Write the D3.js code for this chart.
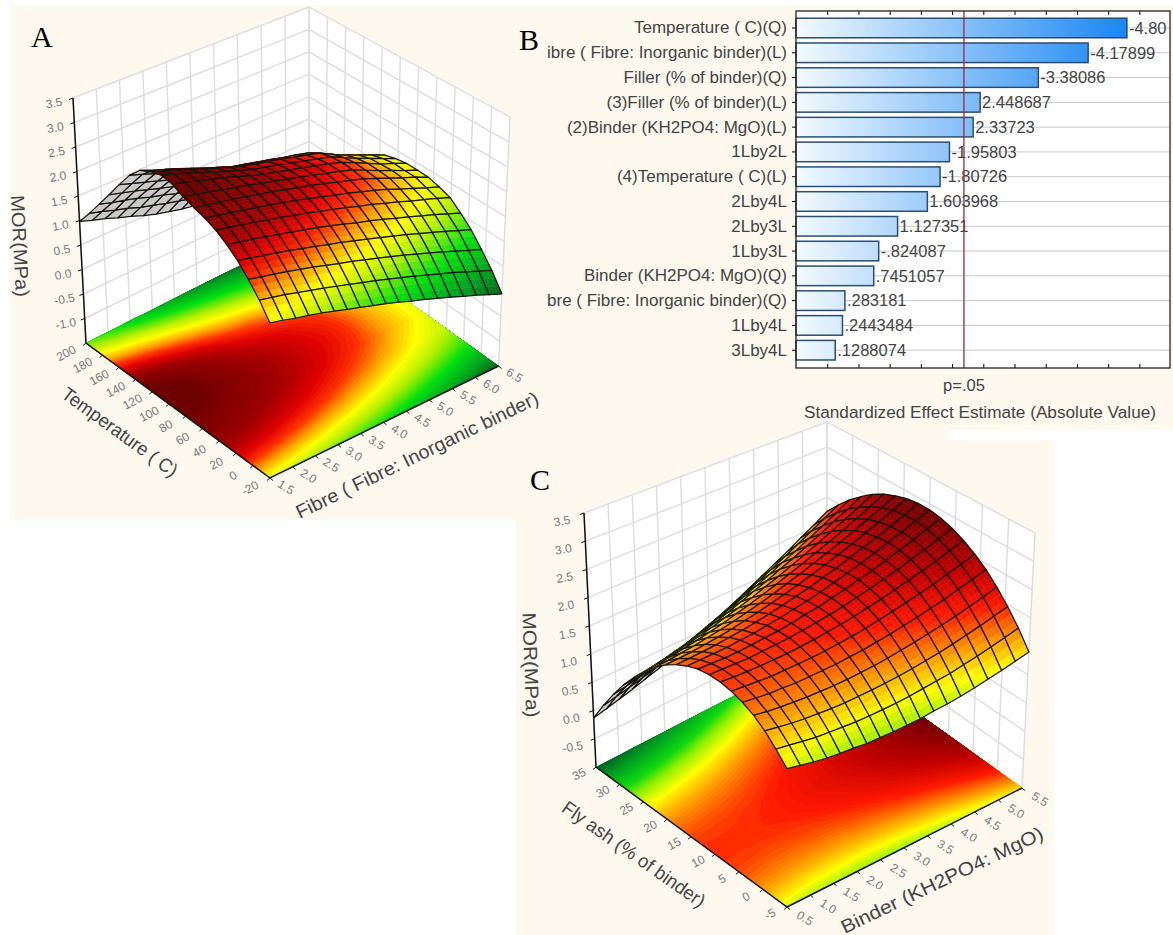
<!DOCTYPE html>
<html>
<head>
<meta charset="utf-8">
<script src="https://cdn.jsdelivr.net/npm/d3@7/dist/d3.min.js"></script>
<style>
  html, body { margin: 0; padding: 0; background: #fff; }
  svg { display: block; }
  text { font-family: "Liberation Sans", Arial, sans-serif; }
</style>
</head>
<body>
<svg id="chart" width="1173" height="935"></svg>
<script>
// Panel B: pareto of effects
var effectNames = ["Temperature ( C)(Q)", "ibre ( Fibre: Inorganic binder)(L)", "Filler (% of binder)(Q)", "(3)Filler (% of binder)(L)", "(2)Binder (KH2PO4: MgO)(L)", "1Lby2L", "(4)Temperature ( C)(L)", "2Lby4L", "2Lby3L", "1Lby3L", "Binder (KH2PO4: MgO)(Q)", "bre ( Fibre: Inorganic binder)(Q)", "1Lby4L", "3Lby4L"];
var effectSizes = [4.80, 4.17899, 3.38086, 2.448687, 2.33723, 1.95803, 1.80726, 1.603968, 1.127351, 0.824087, 0.7451057, 0.283181, 0.2443484, 0.1288074];
var effectLabels = ["-4.80", "-4.17899", "-3.38086", "2.448687", "2.33723", "-1.95803", "-1.80726", "1.603968", "1.127351", "-.824087", ".7451057", ".283181", ".2443484", ".1288074"];
var pLimit = 2.19;

// Panel A: MOR over fibre (rows) and temperature (columns)
var fibreTicks = [1.5, 2.0, 2.5, 3.0, 3.5, 4.0, 4.5, 5.0, 5.5, 6.0, 6.5];
var tempTicks = [-20, 0, 20, 40, 60, 80, 100, 120, 140, 160, 180, 200];
var morTicksA = [-1.0, -0.5, 0.0, 0.5, 1.0, 1.5, 2.0, 2.5, 3.0, 3.5];
var morA = [
  [1.35,1.65,1.91,2.14,2.32,2.47,2.58,2.66,2.75,2.88,2.93,2.88,2.78,2.56,2.25,1.92,1.60,1.28,.98],
  [1.30,1.60,1.86,2.09,2.27,2.43,2.54,2.62,2.70,2.81,2.85,2.79,2.68,2.48,2.17,1.85,1.52,1.21,.89],
  [1.24,1.55,1.81,2.04,2.23,2.38,2.49,2.57,2.65,2.74,2.77,2.72,2.60,2.39,2.09,1.78,1.46,1.12,.81],
  [1.19,1.49,1.76,1.99,2.17,2.33,2.44,2.53,2.59,2.67,2.68,2.62,2.51,2.30,2.01,1.70,1.39,1.05,.71],
  [1.13,1.43,1.70,1.93,2.12,2.27,2.39,2.48,2.53,2.60,2.59,2.53,2.41,2.20,1.92,1.62,1.30,.95,.62],
  [1.06,1.37,1.64,1.87,2.06,2.22,2.34,2.42,2.48,2.52,2.50,2.44,2.31,2.11,1.83,1.54,1.23,.88,.52],
  [.99,1.30,1.57,1.81,2.00,2.16,2.28,2.37,2.41,2.43,2.41,2.35,2.22,2.01,1.75,1.46,1.14,.80,.43],
  [.92,1.23,1.50,1.74,1.94,2.10,2.22,2.31,2.35,2.36,2.33,2.26,2.12,1.93,1.67,1.39,1.08,.73,.36],
  [.85,1.16,1.44,1.68,1.87,2.03,2.15,2.24,2.28,2.30,2.27,2.20,2.06,1.86,1.60,1.33,1.01,.66,.29],
  [.78,1.09,1.36,1.60,1.80,1.96,2.08,2.18,2.22,2.23,2.21,2.14,2.00,1.81,1.55,1.27,.95,.61,.24],
  [.70,1.01,1.29,1.53,1.72,1.89,2.01,2.11,2.15,2.17,2.14,2.08,1.94,1.75,1.49,1.21,.90,.55,.19],
  [.61,.93,1.21,1.45,1.65,1.81,1.94,2.03,2.08,2.10,2.07,2.01,1.87,1.68,1.43,1.15,.84,.49,.13],
  [.53,.85,1.13,1.37,1.57,1.74,1.86,1.96,2.01,2.03,2.00,1.94,1.81,1.61,1.36,1.09,.78,.43,.07],
  [.44,.76,1.04,1.29,1.48,1.65,1.78,1.88,1.93,1.95,1.93,1.87,1.74,1.54,1.29,1.02,.71,.37,.01],
  [.35,.67,.95,1.20,1.40,1.57,1.69,1.78,1.81,1.83,1.80,1.73,1.61,1.42,1.18,.91,.62,.29,-.06],
  [.25,.58,.86,1.11,1.31,1.47,1.58,1.67,1.69,1.70,1.67,1.60,1.47,1.30,1.06,.80,.52,.20,-.12],
  [.16,.48,.76,1.02,1.22,1.39,1.48,1.56,1.58,1.57,1.55,1.48,1.35,1.18,.94,.70,.43,.12,-.20],
  [.05,.38,.66,.92,1.12,1.30,1.38,1.46,1.46,1.47,1.43,1.36,1.23,1.06,.84,.59,.34,.03,-.27],
  [-.05,.28,.56,.82,1.02,1.20,1.28,1.34,1.35,1.35,1.31,1.24,1.11,.95,.73,.49,.24,-.06,-.35]
];
var levelsA = [-0.1, 0.3, 0.75, 1.15, 1.42, 1.68, 1.9, 2.1, 2.35, 2.75];
var coloursA = ["#075a1c", "#00a020", "#00e010", "#b4f000", "#ffff00", "#ffa000", "#ff3000", "#e00000", "#a00000", "#6e0000"];

// Panel C: MOR over binder (rows) and fly ash (columns)
var binderTicks = [0.5, 1.0, 1.5, 2.0, 2.5, 3.0, 3.5, 4.0, 4.5, 5.0, 5.5];
var flyAshTicks = [-5, 0, 5, 10, 15, 20, 25, 30, 35];
var morTicksC = [-0.5, 0.0, 0.5, 1.0, 1.5, 2.0, 2.5, 3.0, 3.5];
var morC = [
  [1.20,1.40,1.58,1.72,1.82,1.89,1.93,1.94,1.92,1.86,1.77,1.65,1.49,1.30,1.08,.83,.54,.22,-.13],
  [1.16,1.37,1.55,1.69,1.80,1.88,1.92,1.94,1.92,1.87,1.78,1.66,1.51,1.33,1.11,.86,.58,.27,-.08],
  [1.12,1.34,1.52,1.67,1.78,1.87,1.92,1.94,1.92,1.88,1.80,1.68,1.54,1.36,1.15,.90,.63,.32,-.02],
  [1.09,1.31,1.50,1.66,1.78,1.86,1.92,1.94,1.93,1.89,1.82,1.71,1.57,1.40,1.19,.95,.68,.38,.04],
  [1.07,1.30,1.49,1.65,1.77,1.87,1.93,1.96,1.95,1.92,1.85,1.74,1.61,1.44,1.24,1.01,.74,.44,.11],
  [1.06,1.29,1.48,1.65,1.78,1.88,1.94,1.98,1.98,1.94,1.88,1.78,1.65,1.49,1.29,1.06,.80,.51,.18],
  [1.04,1.28,1.48,1.65,1.79,1.89,1.96,2.00,2.00,1.98,1.92,1.83,1.70,1.54,1.35,1.13,.87,.59,.26],
  [1.04,1.28,1.49,1.66,1.80,1.91,1.99,2.03,2.04,2.02,1.97,1.88,1.76,1.61,1.42,1.20,.95,.67,.35],
  [1.04,1.29,1.50,1.68,1.83,1.94,2.02,2.07,2.09,2.07,2.02,1.94,1.82,1.67,1.49,1.28,1.04,.76,.45],
  [1.05,1.30,1.52,1.70,1.85,1.97,2.06,2.11,2.13,2.12,2.08,2.00,1.89,1.75,1.57,1.37,1.12,.85,.55],
  [1.06,1.32,1.54,1.73,1.89,2.01,2.10,2.16,2.19,2.18,2.14,2.07,1.97,1.83,1.66,1.46,1.22,.95,.65],
  [1.09,1.35,1.57,1.77,1.93,2.06,2.16,2.22,2.25,2.25,2.22,2.15,2.05,1.92,1.75,1.55,1.32,1.06,.76],
  [1.11,1.38,1.61,1.81,1.98,2.11,2.21,2.28,2.32,2.32,2.29,2.23,2.14,2.01,1.85,1.66,1.43,1.17,.88],
  [1.14,1.41,1.65,1.86,2.03,2.17,2.28,2.35,2.39,2.40,2.38,2.32,2.23,2.11,1.95,1.76,1.55,1.29,1.01],
  [1.18,1.46,1.70,1.91,2.09,2.23,2.35,2.42,2.47,2.49,2.47,2.41,2.33,2.21,2.06,1.88,1.66,1.42,1.14],
  [1.23,1.51,1.76,1.97,2.15,2.30,2.42,2.51,2.56,2.58,2.56,2.52,2.44,2.32,2.18,2.00,1.79,1.55,1.27],
  [1.28,1.57,1.82,2.04,2.23,2.38,2.50,2.59,2.65,2.67,2.66,2.62,2.55,2.44,2.30,2.13,1.92,1.69,1.42],
  [1.34,1.63,1.89,2.11,2.30,2.46,2.59,2.68,2.75,2.78,2.77,2.74,2.67,2.56,2.43,2.26,2.06,1.83,1.56],
  [1.40,1.70,1.96,2.19,2.39,2.55,2.68,2.78,2.85,2.89,2.89,2.86,2.79,2.70,2.57,2.40,2.21,1.98,1.72]
];
var levelsC = [-0.15, 0.3, 0.75, 1.0, 1.3, 1.5, 1.75, 2.0, 2.4, 2.85];
var coloursC = ["#055a24", "#00a020", "#10d810", "#90f000", "#ffff00", "#ffc000", "#ff7000", "#ff1800", "#c00000", "#780000"];

var svg = d3.select("#chart");
var defs = svg.append("defs");

// cream photo backgrounds
svg.append("path").attr("fill", "#fdf9ef")
  .attr("d", "M10,5H1173V430H948V440H1054V935H516V520H10Z");

// corners: F front, R right, B back, L left, on the floor and at the top of the box
var boxA = {
  floor: [[270, 478], [498.5, 366], [309, 231], [86, 343]],
  top: [[270, 206], [510, 117], [309, 7], [73, 98]]
};
var boxC = {
  floor: [[787, 907], [1022, 788], [827, 648], [596, 767]],
  top: [[787, 624], [1035, 533], [827, 422], [584, 513]]
};

function squareToQuad(q) {
  var dx1 = q[1][0] - q[2][0], dx2 = q[3][0] - q[2][0], sx = q[0][0] - q[1][0] + q[2][0] - q[3][0];
  var dy1 = q[1][1] - q[2][1], dy2 = q[3][1] - q[2][1], sy = q[0][1] - q[1][1] + q[2][1] - q[3][1];
  var den = dx1 * dy2 - dx2 * dy1;
  var g = (sx * dy2 - dx2 * sy) / den, h = (dx1 * sy - sx * dy1) / den;
  var a = q[1][0] - q[0][0] + g * q[1][0], b = q[3][0] - q[0][0] + h * q[3][0];
  var d = q[1][1] - q[0][1] + g * q[1][1], e = q[3][1] - q[0][1] + h * q[3][1];
  return function(u, v) {
    var w = g * u + h * v + 1;
    return [(a * u + b * v + q[0][0]) / w, (d * u + e * v + q[0][1]) / w];
  };
}

function drawSurfacePanel(cfg) {
  var g = svg.append("g");
  var floorH = squareToQuad(cfg.box.floor), topH = squareToQuad(cfg.box.top);
  var uScale = d3.scaleLinear().domain(d3.extent(cfg.uTicks)).range([0, 1]);
  var vScale = d3.scaleLinear().domain(d3.extent(cfg.vTicks)).range([0, 1]);
  var wScale = d3.scaleLinear().domain(cfg.zRange).range([0, 1]);
  var colour = d3.scaleLinear().domain(cfg.levels).range(cfg.colours).clamp(true);

  function project(u, v, z) {
    var f = floorH(u, v), t = topH(u, v), w = wScale(z);
    return [f[0] + (t[0] - f[0]) * w, f[1] + (t[1] - f[1]) * w];
  }
  var line = d3.line();
  var zLow = cfg.zRange[0], zHigh = cfg.zRange[1];

  // back walls
  var walls = g.append("g");
  walls.append("path").attr("fill", "#fff")
    .attr("d", line([project(0, 1, zLow), project(0, 1, zHigh), project(1, 1, zHigh), project(1, 1, zLow)]) + "Z");
  walls.append("path").attr("fill", "#fff")
    .attr("d", line([project(1, 1, zLow), project(1, 1, zHigh), project(1, 0, zHigh), project(1, 0, zLow)]) + "Z");
  function wallLine(a, b) {
    walls.append("path").attr("fill", "none").attr("stroke", "#dcdce2").attr("stroke-width", 1.4)
      .attr("d", line([a, b]));
  }
  cfg.uTicks.forEach(function(t) { wallLine(project(uScale(t), 1, zLow), project(uScale(t), 1, zHigh)); });
  cfg.vTicks.forEach(function(t) { wallLine(project(1, vScale(t), zLow), project(1, vScale(t), zHigh)); });
  cfg.zTicks.concat([zLow]).forEach(function(t) {
    wallLine(project(0, 1, t), project(1, 1, t));
    wallLine(project(1, 1, t), project(1, 0, t));
  });

  // floor contours from the same table
  var nu = cfg.values.length, nv = cfg.values[0].length;
  var flat = [];
  for (var j = 0; j < nv; j++) for (var i = 0; i < nu; i++) flat.push(cfg.values[i][j]);
  var minZ = d3.min(flat), maxZ = d3.max(flat);
  var thresholds = d3.range(Math.floor(minZ * 25) / 25, maxZ, 0.04);
  var contours = d3.contours().size([nu, nv]).smooth(true).thresholds(thresholds)(flat);
  var clamp01 = function(x) { return Math.max(0, Math.min(1, x)); };
  var ringPath = function(ring) {
    return line(ring.map(function(p) {
      return floorH(clamp01((p[0] - 0.5) / (nu - 1)), clamp01((p[1] - 0.5) / (nv - 1)));
    })) + "Z";
  };
  var floor = g.append("g");
  floor.selectAll("path").data(contours).enter().append("path")
    .attr("fill", function(d) { return colour(d.value + 0.02); })
    .attr("fill-rule", "evenodd")
    .attr("d", function(d) {
      return d.coordinates.map(function(poly) { return poly.map(ringPath).join(""); }).join("");
    });

  // axis lines on the box
  var axis = g.append("g").attr("stroke", "#111").attr("fill", "none");
  axis.append("path").attr("stroke-width", 1.5)
    .attr("d", line([project(0, 1, zHigh), project(0, 1, zLow), project(0, 0, zLow), project(1, 0, zLow)]));
  cfg.zTicks.forEach(function(t) {
    var p = project(0, 1, t);
    axis.append("path").attr("d", line([p, [p[0] - 4, p[1] + 1.5]]));
    g.append("text").text(t.toFixed(1))
      .attr("transform", "translate(" + (p[0] + cfg.zOffset[0]) + "," + (p[1] + cfg.zOffset[1]) + ") rotate(-10)")
      .attr("text-anchor", "middle").attr("dy", "0.35em")
      .attr("font-size", 12).attr("fill", "#777");
  });
  cfg.uTicks.forEach(function(t) {
    var p = project(uScale(t), 0, zLow);
    axis.append("path").attr("d", line([p, [p[0] + 3, p[1] + 2.5]]));
    g.append("text").text(d3.format(".1f")(t))
      .attr("transform", "translate(" + (p[0] + cfg.uOffset[0]) + "," + (p[1] + cfg.uOffset[1]) + ") rotate(32)")
      .attr("text-anchor", "middle").attr("dy", "0.35em")
      .attr("font-size", 12).attr("fill", "#777");
  });
  cfg.vTicks.forEach(function(t) {
    var p = project(0, vScale(t), zLow);
    axis.append("path").attr("d", line([p, [p[0] - 3, p[1] + 2.5]]));
    g.append("text").text(t)
      .attr("transform", "translate(" + (p[0] + cfg.vOffset[0]) + "," + (p[1] + cfg.vOffset[1]) + ") rotate(-28)")
      .attr("text-anchor", "middle").attr("dy", "0.35em")
      .attr("font-size", 12).attr("fill", "#777");
  });

  // mesh, far cells first; each cell is shaded in a few strips so the colour runs across it
  var floorSign = d3.polygonArea(cfg.box.floor) > 0 ? 1 : -1;
  var mesh = g.append("g").attr("stroke-linejoin", "round");
  var shadeSteps = 3;
  for (var jj = nv - 2; jj >= 0; jj--) {
    for (var ii = nu - 2; ii >= 0; ii--) {
      var z00 = cfg.values[ii][jj], z10 = cfg.values[ii + 1][jj], z11 = cfg.values[ii + 1][jj + 1], z01 = cfg.values[ii][jj + 1];
      var quad = [
        project(ii / (nu - 1), jj / (nv - 1), z00),
        project((ii + 1) / (nu - 1), jj / (nv - 1), z10),
        project((ii + 1) / (nu - 1), (jj + 1) / (nv - 1), z11),
        project(ii / (nu - 1), (jj + 1) / (nv - 1), z01)
      ];
      var underside = d3.polygonArea(quad) * floorSign < 0;
      if (underside) {
        mesh.append("path").attr("d", line(quad) + "Z").attr("fill", "#c9c9c9");
      } else {
        for (var a = 0; a < shadeSteps; a++) {
          for (var b = 0; b < shadeSteps; b++) {
            var s0 = a / shadeSteps, s1 = (a + 1) / shadeSteps, t0 = b / shadeSteps, t1 = (b + 1) / shadeSteps;
            var at = function(s, t) {
              var ax = quad[0][0] + (quad[1][0] - quad[0][0]) * s, ay = quad[0][1] + (quad[1][1] - quad[0][1]) * s;
              var bx = quad[3][0] + (quad[2][0] - quad[3][0]) * s, by = quad[3][1] + (quad[2][1] - quad[3][1]) * s;
              return [ax + (bx - ax) * t, ay + (by - ay) * t];
            };
            var sm = (s0 + s1) / 2, tm = (t0 + t1) / 2;
            var zm = (z00 * (1 - sm) + z10 * sm) * (1 - tm) + (z01 * (1 - sm) + z11 * sm) * tm;
            var c = colour(zm);
            mesh.append("path").attr("d", line([at(s0, t0), at(s1, t0), at(s1, t1), at(s0, t1)]) + "Z")
              .attr("fill", c).attr("stroke", c).attr("stroke-width", 0.5);
          }
        }
      }
      mesh.append("path").attr("d", line(quad) + "Z").attr("fill", "none")
        .attr("stroke", "#16140c").attr("stroke-width", 1.25);
    }
  }

  // axis titles
  cfg.titles.forEach(function(t) {
    g.append("text").text(t.text)
      .attr("transform", "translate(" + t.at[0] + "," + t.at[1] + ") rotate(" + t.angle + ")")
      .attr("text-anchor", "middle").attr("dy", "0.35em")
      .attr("font-size", 19).attr("fill", "#444")
      .attr("textLength", t.length).attr("lengthAdjust", "spacingAndGlyphs");
  });
}

drawSurfacePanel({
  box: boxA, values: morA, levels: levelsA, colours: coloursA,
  uTicks: fibreTicks, vTicks: tempTicks, zTicks: morTicksA, zRange: [-1.5, 3.5],
  zOffset: [-19, 5], uOffset: [16, 9], vOffset: [-20, 10],
  titles: [
    { text: "MOR(MPa)", at: [20, 246], angle: 87, length: 102 },
    { text: "Temperature ( C)", at: [120, 432], angle: 36, length: 138 },
    { text: "Fibre ( Fibre: Inorganic binder)", at: [417, 455], angle: -25.8, length: 267 }
  ]
});

drawSurfacePanel({
  box: boxC, values: morC, levels: levelsC, colours: coloursC,
  uTicks: binderTicks, vTicks: flyAshTicks, zTicks: morTicksC, zRange: [-1.0, 3.5],
  zOffset: [-22, 8], uOffset: [18, 11], vOffset: [-17, 7],
  titles: [
    { text: "MOR(MPa)", at: [531, 665], angle: 88, length: 105 },
    { text: "Fly ash (% of binder)", at: [634, 854], angle: 35, length: 170 },
    { text: "Binder (KH2PO4: MgO)", at: [942, 880], angle: -25.6, length: 222 }
  ]
});

// Panel B
var plotLeft = 796, plotRight = 1170, plotTop = 11, plotBottom = 368;
var x = d3.scaleLinear().domain([-0.5, 5.49]).range([plotLeft, plotRight]);
var y = d3.scaleBand().domain(effectNames).range([15.6, 362.6]).paddingInner(0.21).paddingOuter(0.105);

var grad = defs.append("linearGradient").attr("id", "barFill")
  .attr("gradientUnits", "userSpaceOnUse")
  .attr("x1", x(-0.5)).attr("x2", x(effectSizes[0])).attr("y1", 0).attr("y2", 0);
grad.append("stop").attr("offset", 0).attr("stop-color", "#f4faff");
grad.append("stop").attr("offset", 1).attr("stop-color", "#1a86f2");

svg.append("rect").attr("x", plotLeft).attr("y", plotTop).attr("width", plotRight - plotLeft).attr("height", plotBottom - plotTop).attr("fill", "#fff");

svg.selectAll(".grid").data(effectNames).enter().append("line")
  .attr("class", "grid")
  .attr("x1", plotLeft).attr("x2", plotRight)
  .attr("y1", function(d) { return y(d) + y.bandwidth() / 2; })
  .attr("y2", function(d) { return y(d) + y.bandwidth() / 2; })
  .attr("stroke", "#c9c9c9");

svg.selectAll(".bar").data(effectSizes).enter().append("rect")
  .attr("class", "bar")
  .attr("x", plotLeft)
  .attr("y", function(d, i) { return y(effectNames[i]); })
  .attr("width", function(d) { return x(d) - plotLeft; })
  .attr("height", y.bandwidth())
  .attr("fill", "url(#barFill)")
  .attr("stroke", "#2a4d73").attr("stroke-width", 1.5);

svg.selectAll(".value").data(effectLabels).enter().append("text")
  .attr("class", "value")
  .attr("x", function(d, i) { return x(effectSizes[i]) + 2; })
  .attr("y", function(d, i) { return y(effectNames[i]) + y.bandwidth() / 2; })
  .attr("dy", "0.35em")
  .attr("font-size", 16.5).attr("fill", "#444")
  .text(function(d) { return d; });

svg.append("line").attr("x1", x(pLimit)).attr("x2", x(pLimit)).attr("y1", plotTop).attr("y2", plotBottom)
  .attr("stroke", "#a02838").attr("stroke-width", 1.3);

var minorTicks = d3.range(0, 5.5, 0.5);
var yAxis = d3.axisLeft(y).tickSize(4).tickPadding(5);
var gy = svg.append("g").attr("transform", "translate(" + plotLeft + ",0)").call(yAxis);
gy.selectAll("text").attr("font-size", 17).attr("fill", "#444").style("font-family", "'Liberation Sans', Arial, sans-serif");
gy.select(".domain").remove();
var gb = svg.append("g").attr("transform", "translate(0," + plotBottom + ")")
  .call(d3.axisBottom(x).tickValues(minorTicks).tickSize(-4).tickFormat(""));
gb.select(".domain").remove();
var gt = svg.append("g").attr("transform", "translate(0," + plotTop + ")")
  .call(d3.axisTop(x).tickValues(minorTicks).tickSize(-4).tickFormat(""));
gt.select(".domain").remove();

svg.append("rect").attr("x", plotLeft).attr("y", plotTop).attr("width", plotRight - plotLeft).attr("height", plotBottom - plotTop)
  .attr("fill", "none").attr("stroke", "#222").attr("stroke-width", 1.3);

svg.append("text").attr("x", x(pLimit)).attr("y", 385).attr("dy", "0.35em").attr("text-anchor", "middle")
  .attr("font-size", 16.5).attr("fill", "#444").text("p=.05");
svg.append("text").attr("x", 980).attr("y", 412).attr("dy", "0.35em").attr("text-anchor", "middle")
  .attr("font-size", 16).attr("fill", "#444").attr("textLength", 352).attr("lengthAdjust", "spacingAndGlyphs")
  .text("Standardized Effect Estimate (Absolute Value)");

// panel letters
var letters = [["A", 31, 47], ["B", 519, 50], ["C", 530, 490]];
svg.selectAll(".letter").data(letters).enter().append("text")
  .attr("class", "letter")
  .attr("x", function(d) { return d[1]; })
  .attr("y", function(d) { return d[2]; })
  .attr("font-size", 30).attr("fill", "#000")
  .style("font-family", "'Liberation Serif', serif")
  .text(function(d) { return d[0]; });
</script>
</body>
</html>
